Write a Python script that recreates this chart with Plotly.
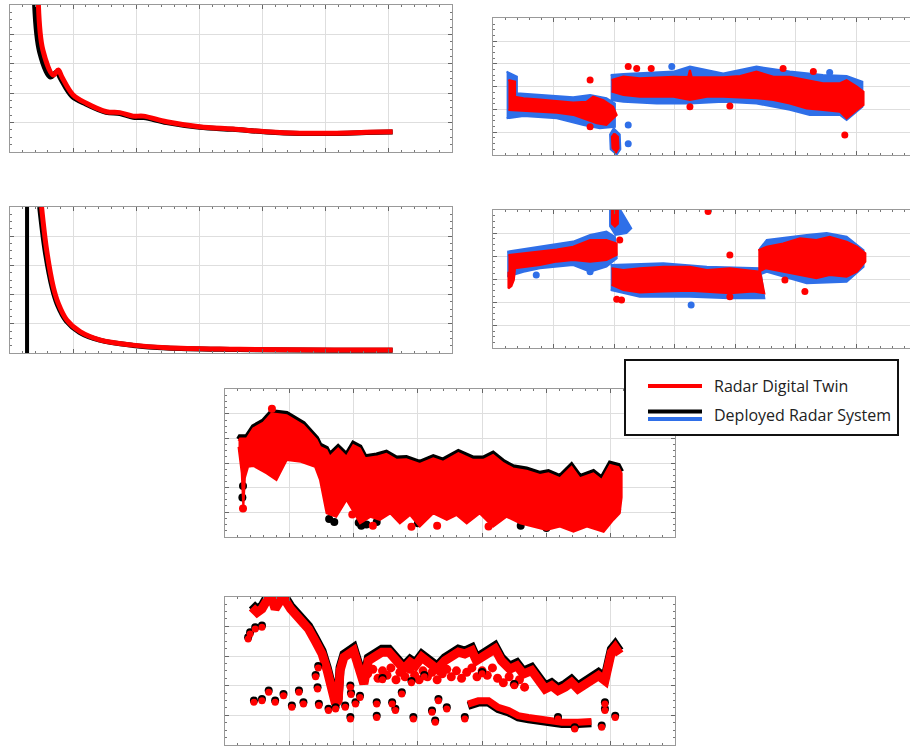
import plotly.graph_objects as go

# ---------------- Panel 1 (top-left): decaying curve ----------------
p1_red_x = [0.45, 0.52, 0.685, 0.765, 0.82, 1.0, 1.21, 1.53, 1.74, 1.95, 2.11, 2.48, 3.0, 3.53, 4.06, 4.59, 5.11, 5.64, 6.06]
p1_red_y = [5.0, 3.47, 2.62, 2.79, 2.56, 1.94, 1.66, 1.37, 1.34, 1.22, 1.22, 1.03, 0.86, 0.78, 0.69, 0.64, 0.64, 0.67, 0.69]
p1_blk_x = [0.39, 0.47, 0.64, 0.74, 0.80, 0.98, 1.20, 1.52, 1.74, 1.95, 2.12, 2.48, 3.0, 3.53, 4.06, 4.59, 5.11, 5.64, 6.06]
p1_blk_y = [5.0, 3.40, 2.55, 2.72, 2.50, 1.90, 1.63, 1.35, 1.31, 1.18, 1.17, 1.00, 0.84, 0.77, 0.68, 0.63, 0.63, 0.66, 0.68]

# ---------------- Panel 3 (middle-left): decaying curve ----------------
p3_red_x = [0.50, 0.58, 0.685, 0.765, 0.90, 1.11, 1.42, 1.95, 2.48, 3.53, 4.5, 5.3, 6.06]
p3_red_y = [5.0, 3.53, 2.27, 1.70, 1.13, 0.73, 0.45, 0.27, 0.18, 0.13, 0.11, 0.10, 0.10]
p3_blk_x = [0.47, 0.56, 0.67, 0.75, 0.89, 1.10, 1.42, 1.95, 2.48, 3.53, 4.5, 5.3, 6.06]
p3_blk_y = [5.0, 3.45, 2.22, 1.66, 1.10, 0.71, 0.44, 0.26, 0.17, 0.12, 0.10, 0.09, 0.09]
p3_vline_x = [0.27, 0.27]
p3_vline_y = [0.0, 5.0]

# ---------------- Panel 2 (top-right): point clouds as envelopes ----------------
p2_a_red_up_x = [0.25, 0.36, 0.36, 0.50, 0.77, 1.05, 1.32, 1.54, 1.65, 1.82, 1.98]
p2_a_red_up_y = [3.29, 3.22, 2.56, 2.49, 2.44, 2.37, 2.30, 2.34, 2.56, 2.41, 2.12]
p2_a_red_lo_x = [0.25, 0.50, 0.77, 1.05, 1.32, 1.54, 1.71, 1.87, 2.04]
p2_a_red_lo_y = [1.98, 1.95, 1.90, 1.85, 1.76, 1.54, 1.39, 1.32, 1.76]
p2_a_blu_up_x = [0.22, 0.39, 0.39, 0.77, 1.32, 1.60, 1.87, 2.01]
p2_a_blu_up_y = [3.66, 3.44, 2.71, 2.63, 2.53, 2.63, 2.49, 2.26]
p2_a_blu_lo_x = [0.22, 0.50, 1.05, 1.49, 1.76, 2.01]
p2_a_blu_lo_y = [1.61, 1.71, 1.61, 1.32, 1.17, 1.24]

p2_dip_red_x = [2.00, 2.06, 2.07, 2.03, 1.97, 1.96]
p2_dip_red_y = [0.95, 0.80, 0.30, 0.12, 0.30, 0.80]
p2_dip_blu_x = [1.99, 2.09, 2.10, 2.04, 1.94, 1.93]
p2_dip_blu_y = [1.17, 0.90, 0.25, 0.02, 0.25, 0.90]

p2_c_red_up_x = [1.955, 2.15, 2.42, 2.70, 2.98, 3.22, 3.25, 3.28, 3.36, 3.80, 4.08, 4.35, 4.63, 4.90, 5.18, 5.45, 5.73, 5.84, 6.01, 6.12]
p2_c_red_up_y = [3.29, 3.44, 3.37, 3.41, 3.44, 3.42, 3.73, 3.42, 3.41, 3.41, 3.47, 3.66, 3.44, 3.44, 3.29, 3.15, 3.15, 3.29, 3.00, 2.78]
p2_c_red_lo_x = [1.955, 2.15, 2.42, 2.70, 2.98, 3.25, 3.53, 3.80, 4.08, 4.35, 4.63, 4.90, 5.18, 5.45, 5.73, 5.84, 6.01, 6.12]
p2_c_red_lo_y = [2.78, 2.63, 2.56, 2.56, 2.56, 2.41, 2.56, 2.56, 2.53, 2.49, 2.41, 2.26, 2.04, 1.98, 1.90, 1.61, 1.98, 2.19]
p2_c_blu_up_x = [1.94, 2.15, 2.98, 3.25, 3.80, 4.35, 4.90, 5.45, 5.84, 6.10]
p2_c_blu_up_y = [3.51, 3.56, 3.66, 3.88, 3.58, 3.88, 3.66, 3.51, 3.47, 3.22]
p2_c_blu_lo_x = [1.94, 2.15, 2.70, 3.25, 3.80, 4.35, 4.90, 5.23, 5.73, 5.84, 6.10]
p2_c_blu_lo_y = [2.41, 2.34, 2.26, 2.26, 2.34, 2.26, 1.98, 1.76, 1.76, 1.54, 2.12]

p2_out_red_x = [1.60, 2.23, 2.37, 2.61, 3.25, 3.91, 4.79, 5.29, 5.81, 1.60]
p2_out_red_y = [3.29, 3.88, 3.80, 3.80, 2.12, 2.15, 3.80, 3.66, 0.88, 1.24]
p2_out_blu_x = [2.95, 2.23, 2.23, 5.56]
p2_out_blu_y = [3.88, 1.32, 0.49, 3.62]

# ---------------- Panel 4 (middle-right): point clouds as envelopes ----------------
p4_a_red_up_x = [0.25, 0.50, 0.77, 1.05, 1.32, 1.60, 1.87, 2.04]
p4_a_red_up_y = [4.05, 4.12, 4.19, 4.29, 4.41, 4.70, 4.70, 4.55]
p4_a_red_lo_x = [0.25, 0.25, 0.30, 0.34, 0.36, 0.77, 1.05, 1.32, 1.60, 1.87, 2.04]
p4_a_red_lo_y = [3.32, 2.60, 2.70, 2.96, 3.47, 3.61, 3.76, 3.83, 3.76, 3.83, 4.05]
p4_a_blu_up_x = [0.23, 0.77, 1.32, 1.60, 1.87, 2.01]
p4_a_blu_up_y = [4.19, 4.41, 4.63, 4.92, 5.06, 4.84]
p4_a_blu_lo_x = [0.23, 0.50, 0.77, 1.32, 1.60, 1.87, 2.04]
p4_a_blu_lo_y = [3.11, 3.32, 3.47, 3.61, 3.32, 3.54, 3.90]

p4_top_red_x = [1.96, 2.06, 2.06, 2.01, 1.96]
p4_top_red_y = [6.00, 6.00, 5.40, 5.28, 5.40]
p4_top_blu_x = [1.93, 2.10, 2.28, 2.20, 2.02, 1.93]
p4_top_blu_y = [6.00, 6.00, 5.20, 5.00, 4.92, 5.30]

p4_c_red_up_x = [1.955, 2.15, 2.42, 2.81, 3.25, 3.53, 3.91, 4.30, 4.41]
p4_c_red_up_y = [3.47, 3.40, 3.47, 3.54, 3.54, 3.40, 3.47, 3.37, 3.32]
p4_c_red_lo_x = [1.955, 2.15, 2.42, 2.81, 3.25, 3.53, 3.91, 4.30, 4.48]
p4_c_red_lo_y = [2.75, 2.53, 2.42, 2.46, 2.50, 2.46, 2.39, 2.46, 2.39]
p4_c_blu_up_x = [1.94, 2.81, 3.53, 4.41]
p4_c_blu_up_y = [3.61, 3.69, 3.54, 3.47]
p4_c_blu_lo_x = [1.94, 2.42, 3.25, 3.91, 4.48]
p4_c_blu_lo_y = [2.53, 2.24, 2.24, 2.17, 2.17]

p4_d_red_up_x = [4.38, 4.52, 4.79, 5.07, 5.34, 5.56, 5.84, 6.01, 6.15]
p4_d_red_up_y = [4.26, 4.41, 4.55, 4.77, 4.70, 4.84, 4.63, 4.41, 4.12]
p4_d_red_lo_x = [4.38, 4.50, 4.79, 5.07, 5.34, 5.56, 5.84, 6.01, 6.15]
p4_d_red_lo_y = [3.30, 3.47, 3.32, 3.18, 3.04, 3.18, 3.11, 3.32, 3.76]
p4_d_blu_up_x = [4.40, 4.52, 5.18, 5.51, 5.84, 6.12]
p4_d_blu_up_y = [4.30, 4.70, 4.92, 5.00, 4.84, 4.26]
p4_d_blu_lo_x = [4.40, 4.52, 5.18, 5.84, 6.12]
p4_d_blu_lo_y = [3.20, 3.32, 2.82, 2.89, 3.54]

p4_out_red_x = [3.55, 4.82, 5.15, 3.91, 3.91, 2.04, 2.12, 2.09]
p4_out_red_y = [5.93, 2.96, 2.46, 4.05, 2.24, 2.13, 2.10, 4.70]
p4_out_blu_x = [3.27, 1.60, 0.71]
p4_out_blu_y = [1.88, 3.32, 3.18]

# ---------------- Panel 5 (lower middle): filled region ----------------
p5_up_x = [0.21, 0.233, 0.337, 0.44, 0.596, 0.726, 0.96, 1.22, 1.426, 1.478, 1.58, 1.63, 1.76, 1.89, 1.996, 2.10, 2.18,
           2.36, 2.51, 2.67, 2.82, 3.03, 3.24, 3.39, 3.63, 3.86, 4.02, 4.17, 4.33, 4.48, 4.69, 4.90, 5.03, 5.21,
           5.39, 5.52, 5.73, 5.86, 5.99, 6.12, 6.17]
p5_up_y = [3.90, 4.00, 4.00, 4.41, 4.64, 5.02, 4.95, 4.54, 3.94, 3.66, 3.53, 3.26, 3.59, 3.26, 3.73, 3.59, 3.19,
           3.26, 3.37, 3.13, 3.15, 2.96, 3.19, 3.05, 3.40, 3.13, 3.13, 3.33, 2.99, 2.78, 2.69, 2.51, 2.58, 2.38,
           2.85, 2.38, 2.58, 2.31, 2.92, 2.83, 2.58]
p5_lo_x = [0.21, 0.26, 0.285, 0.31, 0.36, 0.44, 0.648, 0.80, 0.96, 1.18, 1.40, 1.478, 1.58, 1.73, 1.89, 2.00, 2.10,
           2.26, 2.41, 2.57, 2.72, 2.88, 3.03, 3.24, 3.45, 3.60, 3.76, 3.96, 4.17, 4.38, 4.59, 4.80, 5.00, 5.21,
           5.42, 5.63, 5.89, 6.04, 6.14, 6.17]
p5_lo_y = [3.66, 2.60, 1.15, 2.40, 2.85, 2.88, 2.58, 2.31, 3.12, 3.05, 2.85, 2.31, 0.95, 0.81, 1.49, 1.02, 0.54,
           0.81, 0.68, 0.95, 0.54, 0.88, 0.41, 0.95, 0.68, 0.88, 0.54, 0.95, 0.41, 0.81, 0.54, 0.41, 0.27, 0.41,
           0.20, 0.41, 0.20, 0.68, 0.95, 1.60]
p5_blk_pts_x = [0.28, 0.27, 1.62, 1.70, 2.03, 2.08, 2.12, 2.20, 2.36, 3.00, 4.60, 5.00, 6.10]
p5_blk_pts_y = [2.06, 1.60, 0.72, 0.60, 1.45, 0.57, 0.45, 0.50, 0.60, 0.55, 0.45, 0.35, 1.10]
p5_red_pts_x = [0.73, 1.98, 2.30, 2.90, 3.30, 4.10, 0.28]
p5_red_pts_y = [5.21, 0.90, 0.45, 0.40, 0.45, 0.42, 1.15]

# ---------------- Panel 6 (bottom): main track + scattered points ----------------
p6_main_x = [0.42, 0.50, 0.575, 0.65, 0.73, 0.78, 0.86, 0.94, 1.02, 1.09, 1.20, 1.30, 1.40, 1.51, 1.59, 1.66, 1.72,
             1.76, 1.79, 1.85, 1.92, 2.00, 2.08, 2.16, 2.23, 2.34, 2.44, 2.55, 2.65, 2.78, 2.88, 2.96, 3.06, 3.17,
             3.30, 3.42, 3.53, 3.63, 3.73, 3.84, 3.91, 3.99, 4.10, 4.20, 4.30, 4.43, 4.54, 4.64, 4.77, 4.87, 4.98,
             5.08, 5.18, 5.29, 5.39, 5.49, 5.60, 5.70, 5.81, 5.91, 5.96, 6.01, 6.07, 6.14]
p6_main_y = [4.64, 4.47, 4.59, 4.87, 4.92, 4.59, 4.87, 4.87, 4.59, 4.42, 4.19, 3.91, 3.52, 3.07, 2.51, 1.83, 1.38,
             1.49, 2.51, 2.96, 3.07, 3.18, 2.62, 2.06, 2.84, 3.01, 3.13, 3.13, 2.84, 2.56, 2.79, 2.67, 2.96, 2.79,
             2.56, 2.84, 2.96, 3.13, 3.07, 3.18, 2.84, 2.96, 3.18, 3.24, 2.84, 2.56, 2.67, 2.39, 2.51, 2.17, 1.89,
             2.00, 1.83, 1.95, 2.11, 1.89, 2.06, 2.23, 2.34, 2.17, 2.62, 3.13, 3.29, 3.07]
p6_mid_x = [2.22, 2.30, 2.38, 2.45, 2.52, 2.58, 2.66, 2.72, 2.80, 2.88, 2.95, 3.02, 3.08, 3.15, 3.22, 3.30, 3.38,
            3.45, 3.52, 3.60, 3.68, 3.76, 3.84, 3.92, 4.00, 4.08, 4.16, 4.24, 4.33, 4.42, 4.50, 4.58, 4.66]
p6_mid_y = [2.40, 2.55, 2.25, 2.50, 2.35, 2.60, 2.20, 2.45, 2.30, 2.55, 2.35, 2.20, 2.50, 2.30, 2.45, 2.20, 2.40,
            2.55, 2.30, 2.50, 2.25, 2.45, 2.60, 2.30, 2.50, 2.35, 2.60, 2.25, 2.10, 2.30, 2.05, 2.20, 1.95]
p6_low_x = [3.78, 3.94, 4.10, 4.25, 4.41, 4.56, 4.72, 4.87, 5.03, 5.24, 5.49, 5.70]
p6_low_y = [1.38, 1.49, 1.49, 1.27, 1.16, 0.99, 0.93, 0.88, 0.82, 0.77, 0.77, 0.79]
p6_pts_x = [0.36, 0.39, 0.47, 0.575, 0.45, 0.575, 0.68, 0.78, 0.91, 1.04, 1.15, 1.22, 1.46, 1.44, 1.61, 1.72, 1.87,
            1.95, 1.95, 2.03, 2.36, 2.36, 2.60, 2.65, 2.75, 2.93, 3.22, 3.27, 3.32, 3.45, 3.73, 5.91, 5.91, 6.07,
            5.86, 5.44, 5.18, 2.45, 2.90, 3.10, 4.00, 4.50, 1.41, 1.45, 1.96, 2.10]
p6_pts_y = [3.57, 3.74, 3.91, 3.97, 1.44, 1.49, 1.78, 1.44, 1.66, 1.27, 1.78, 1.38, 1.33, 1.89, 1.16, 1.21, 1.27,
            1.95, 0.88, 1.38, 1.38, 0.93, 1.38, 1.16, 1.72, 0.88, 1.10, 0.77, 1.49, 1.21, 0.88, 1.38, 1.16, 0.93,
            0.60, 0.54, 0.88, 2.20, 2.10, 2.30, 2.40, 2.00, 2.30, 2.60, 1.70, 1.60]

RED = "#ff0000"
BLUE = "#2f6fe8"
BLACK = "#000000"

fig = go.Figure()


def poly(upx, upy, lox, loy, color, ax):
    fig.add_trace(go.Scatter(x=list(upx) + list(lox)[::-1], y=list(upy) + list(loy)[::-1],
                             fill="toself", fillcolor=color, mode="lines",
                             line=dict(color=color, width=2), xaxis="x" + ax, yaxis="y" + ax,
                             hoverinfo="skip", showlegend=False))


def closed(px_, py_, color, ax):
    fig.add_trace(go.Scatter(x=list(px_) + [px_[0]], y=list(py_) + [py_[0]], fill="toself", fillcolor=color,
                             mode="lines", line=dict(color=color, width=2), xaxis="x" + ax, yaxis="y" + ax,
                             hoverinfo="skip", showlegend=False))


def line(x, y, color, width, ax, shape="linear"):
    fig.add_trace(go.Scatter(x=x, y=y, mode="lines", line=dict(color=color, width=width, shape=shape),
                             xaxis="x" + ax, yaxis="y" + ax, hoverinfo="skip", showlegend=False))


def pts(x, y, color, size, ax):
    fig.add_trace(go.Scatter(x=x, y=y, mode="markers", marker=dict(color=color, size=size, line=dict(width=0)),
                             xaxis="x" + ax, yaxis="y" + ax, hoverinfo="skip", showlegend=False))


# Panel 1
line(p1_blk_x, p1_blk_y, BLACK, 5, "", "spline")
line(p1_red_x, p1_red_y, RED, 5, "", "spline")
# Panel 2
poly(p2_a_blu_up_x, p2_a_blu_up_y, p2_a_blu_lo_x, p2_a_blu_lo_y, BLUE, "2")
poly(p2_c_blu_up_x, p2_c_blu_up_y, p2_c_blu_lo_x, p2_c_blu_lo_y, BLUE, "2")
closed(p2_dip_blu_x, p2_dip_blu_y, BLUE, "2")
pts(p2_out_blu_x, p2_out_blu_y, BLUE, 7, "2")
poly(p2_a_red_up_x, p2_a_red_up_y, p2_a_red_lo_x, p2_a_red_lo_y, RED, "2")
poly(p2_c_red_up_x, p2_c_red_up_y, p2_c_red_lo_x, p2_c_red_lo_y, RED, "2")
closed(p2_dip_red_x, p2_dip_red_y, RED, "2")
pts(p2_out_red_x, p2_out_red_y, RED, 7, "2")
# Panel 3
line(p3_vline_x, p3_vline_y, BLACK, 4, "3")
line(p3_blk_x, p3_blk_y, BLACK, 5, "3", "spline")
line(p3_red_x, p3_red_y, RED, 5, "3", "spline")
# Panel 4
poly(p4_a_blu_up_x, p4_a_blu_up_y, p4_a_blu_lo_x, p4_a_blu_lo_y, BLUE, "4")
poly(p4_c_blu_up_x, p4_c_blu_up_y, p4_c_blu_lo_x, p4_c_blu_lo_y, BLUE, "4")
poly(p4_d_blu_up_x, p4_d_blu_up_y, p4_d_blu_lo_x, p4_d_blu_lo_y, BLUE, "4")
closed(p4_top_blu_x, p4_top_blu_y, BLUE, "4")
pts(p4_out_blu_x, p4_out_blu_y, BLUE, 7, "4")
poly(p4_a_red_up_x, p4_a_red_up_y, p4_a_red_lo_x, p4_a_red_lo_y, RED, "4")
poly(p4_c_red_up_x, p4_c_red_up_y, p4_c_red_lo_x, p4_c_red_lo_y, RED, "4")
poly(p4_d_red_up_x, p4_d_red_up_y, p4_d_red_lo_x, p4_d_red_lo_y, RED, "4")
closed(p4_top_red_x, p4_top_red_y, RED, "4")
pts(p4_out_red_x, p4_out_red_y, RED, 7, "4")
# Panel 5
line(p5_up_x, [v + 0.07 for v in p5_up_y], BLACK, 5, "5")
pts(p5_blk_pts_x, p5_blk_pts_y, BLACK, 8, "5")
poly(p5_up_x, p5_up_y, p5_lo_x, p5_lo_y, RED, "5")
pts(p5_red_pts_x, p5_red_pts_y, RED, 8, "5")
# Panel 6
line(p6_main_x, [v + 0.1 for v in p6_main_y], BLACK, 9, "6")
pts(p6_mid_x, p6_mid_y, RED, 9, "6")
line(p6_main_x, p6_main_y, RED, 9, "6")
line(p6_low_x, [v - 0.06 for v in p6_low_y], BLACK, 8, "6")
line(p6_low_x, p6_low_y, RED, 7, "6")
pts(p6_pts_x, [v + 0.06 for v in p6_pts_y], BLACK, 8, "6")
pts(p6_pts_x, p6_pts_y, RED, 7, "6")

W, H = 910, 747


def px(a):
    return a / W


def py(b):
    return 1 - b / H


def xa(x0, x1, rng, anchor):
    return dict(domain=[px(x0), min(1.0, px(x1))], range=rng, anchor=anchor, showticklabels=False,
                showgrid=True, gridcolor="#dedede", gridwidth=1, dtick=1, tick0=0, zeroline=False,
                showline=True, linecolor="#999999", linewidth=1, mirror="ticks", ticks="inside",
                ticklen=4, tickcolor="#666666",
                minor=dict(dtick=0.2, ticks="inside", ticklen=2, tickcolor="#777777", showgrid=False),
                fixedrange=True)


def ya(y0, y1, rng, anchor, mirror="ticks"):
    return dict(domain=[py(y1), py(y0)], range=rng, anchor=anchor, showticklabels=False,
                showgrid=True, gridcolor="#dedede", gridwidth=1, dtick=1, tick0=0, zeroline=False,
                showline=True, linecolor="#999999", linewidth=1, mirror=mirror, ticks="inside",
                ticklen=4, tickcolor="#666666",
                minor=dict(dtick=0.25, ticks="inside", ticklen=2, tickcolor="#777777", showgrid=False),
                fixedrange=True)


p2_xmax = (910 - 493.3) / 60.5

fig.update_layout(
    width=W, height=H, margin=dict(l=0, r=0, t=0, b=0), paper_bgcolor="white", plot_bgcolor="white",
    showlegend=False,
    xaxis=xa(10, 452, [0, 7], "y"), yaxis=ya(5, 152, [0, 5], "x"),
    xaxis2=xa(493.3, 910, [0, p2_xmax], "y2"), yaxis2=ya(18.3, 155, [0, 6], "x2", mirror=False),
    xaxis3=xa(10, 452, [0, 7], "y3"), yaxis3=ya(207, 353, [0, 5], "x3"),
    xaxis4=xa(493.3, 910, [0, p2_xmax], "y4"), yaxis4=ya(210, 348.3, [0, 6], "x4", mirror=False),
    xaxis5=xa(225, 675, [0, 7], "y5"), yaxis5=ya(389.3, 536.7, [0, 6], "x5"),
    xaxis6=xa(225, 675, [0, 7], "y6"), yaxis6=ya(596.7, 745, [0, 5], "x6"),
)

# Legend drawn manually (black + blue double line for the deployed system)
shapes = [
    dict(type="rect", xref="paper", yref="paper", x0=px(625), x1=px(898), y0=py(435), y1=py(360),
         fillcolor="white", line=dict(color="#111111", width=2), layer="above"),
    dict(type="line", xref="paper", yref="paper", x0=px(648), x1=px(702), y0=py(386), y1=py(386),
         line=dict(color=RED, width=4), layer="above"),
    dict(type="line", xref="paper", yref="paper", x0=px(648), x1=px(702), y0=py(411.5), y1=py(411.5),
         line=dict(color=BLACK, width=4), layer="above"),
    dict(type="line", xref="paper", yref="paper", x0=px(648), x1=px(702), y0=py(419), y1=py(419),
         line=dict(color=BLUE, width=4), layer="above"),
]
fig.update_layout(shapes=shapes)
fig.add_annotation(xref="paper", yref="paper", x=px(712), y=py(386), text="Radar Digital Twin",
                   showarrow=False, xanchor="left", yanchor="middle",
                   font=dict(family="Open Sans, Liberation Sans, sans-serif", size=16, color="#222222"))
fig.add_annotation(xref="paper", yref="paper", x=px(712), y=py(415), text="Deployed Radar System",
                   showarrow=False, xanchor="left", yanchor="middle",
                   font=dict(family="Open Sans, Liberation Sans, sans-serif", size=16, color="#222222"))

fig.write_html("out.html", config={"displayModeBar": False, "staticPlot": True},
               post_script="document.body.style.margin='0';document.body.style.padding='0';"
                           "document.body.style.overflow='hidden';")
